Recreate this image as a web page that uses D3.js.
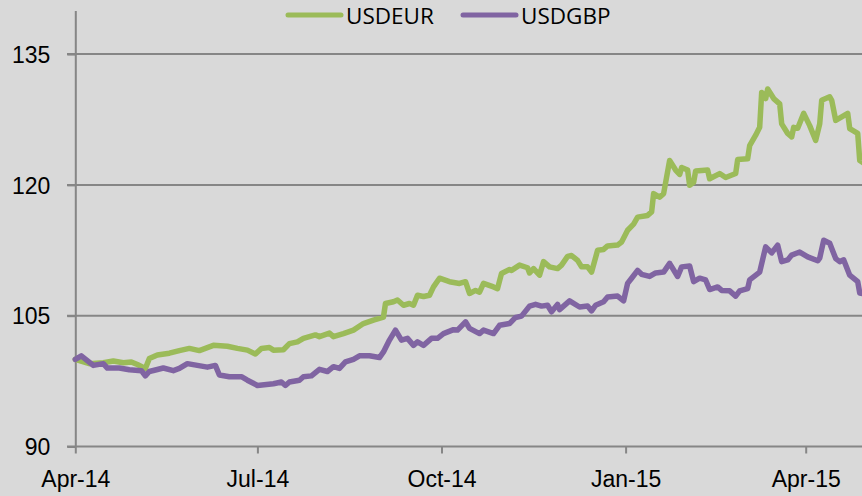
<!DOCTYPE html>
<html lang="en">
  <head>
    <meta charset="utf-8"/>
    <script src="https://cdn.jsdelivr.net/npm/d3@7"></script>
    <style>
      body { margin: 0; background: #d9d9d9; }
      svg { display: block; font-family: "Open Sans", sans-serif; }
      .axis text { fill: #000; font-size: 23px; }
      .axis path, .axis line { stroke: #868686; stroke-width: 2; }
      .grid line { stroke: #868686; stroke-width: 2; }
      .legend text { font-size: 22.5px; fill: #000; }
    </style>
  </head>
  <body>
    <svg class="chart"></svg>
  </body>
  <script>
    const seriesNames = ["USDEUR", "USDGBP"];
    const seriesColors = ["#9bbb59", "#8064a2"];
    const yTicks = [90, 105, 120, 135];
    const xTicks = ["2014-04-01", "2014-07-01", "2014-10-01", "2015-01-01", "2015-04-01"];

    const eurDates = [
      "2014-04-01","2014-04-08","2014-04-15","2014-04-20","2014-04-25","2014-04-29","2014-05-02","2014-05-06",
      "2014-05-08","2014-05-12","2014-05-18","2014-05-23","2014-05-28","2014-06-02","2014-06-09","2014-06-16",
      "2014-06-21","2014-06-26","2014-06-30","2014-07-03","2014-07-07","2014-07-09","2014-07-14","2014-07-17",
      "2014-07-21","2014-07-24","2014-07-27","2014-07-30","2014-08-01","2014-08-06","2014-08-08","2014-08-13",
      "2014-08-18","2014-08-23","2014-08-28","2014-09-02","2014-09-03","2014-09-07","2014-09-09","2014-09-12",
      "2014-09-15","2014-09-17","2014-09-19","2014-09-22","2014-09-25","2014-09-27","2014-09-30","2014-10-05",
      "2014-10-10","2014-10-13","2014-10-15","2014-10-18","2014-10-20","2014-10-22","2014-10-27","2014-10-29",
      "2014-10-31","2014-11-04","2014-11-05","2014-11-09","2014-11-13","2014-11-14","2014-11-16","2014-11-19",
      "2014-11-21","2014-11-24","2014-11-28","2014-11-30","2014-12-03","2014-12-05","2014-12-08","2014-12-10",
      "2014-12-13","2014-12-15","2014-12-18","2014-12-21","2014-12-23","2014-12-28","2014-12-30","2015-01-02",
      "2015-01-05","2015-01-07","2015-01-12","2015-01-14","2015-01-15","2015-01-18","2015-01-20","2015-01-23",
      "2015-01-26","2015-01-28","2015-01-29","2015-02-01","2015-02-02","2015-02-04","2015-02-05","2015-02-11",
      "2015-02-12","2015-02-17","2015-02-20","2015-02-25","2015-02-26","2015-03-03","2015-03-04","2015-03-07",
      "2015-03-09","2015-03-10","2015-03-12","2015-03-13","2015-03-16","2015-03-19","2015-03-20","2015-03-23",
      "2015-03-25","2015-03-26","2015-03-28","2015-03-31","2015-04-03","2015-04-06","2015-04-08","2015-04-09",
      "2015-04-13","2015-04-14","2015-04-16","2015-04-22","2015-04-23","2015-04-27","2015-04-28","2015-04-30"
    ];
    const eurValues = [
      100.0, 99.5, 99.6, 99.8, 99.6, 99.7, 99.4, 98.95,
      100.1, 100.5, 100.7, 101.0, 101.25, 101.0, 101.6, 101.5,
      101.25, 101.05, 100.6, 101.25, 101.35, 101.05, 101.1, 101.8,
      102.0, 102.4, 102.6, 102.8, 102.6, 103.0, 102.6, 102.95,
      103.35, 104.1, 104.5, 104.85, 106.4, 106.6, 106.8, 106.2,
      106.4, 106.2, 107.35, 107.2, 107.35, 108.3, 109.3, 108.9,
      108.7, 108.9, 107.55, 107.9, 107.7, 108.7, 108.3, 108.1,
      109.85, 110.3, 110.2, 110.8, 110.5, 109.9, 110.4, 109.65,
      111.2, 110.6, 110.4, 110.8, 111.8, 111.9, 111.35, 110.6,
      110.6, 110.0, 112.5, 112.6, 113.0, 113.1, 113.45, 114.8,
      115.5, 116.3, 116.5, 116.9, 119.0, 118.6, 119.0, 122.8,
      121.7, 121.2, 122.0, 121.7, 119.95, 120.3, 121.6, 121.7,
      120.7, 121.3, 120.85, 121.3, 122.9, 123.0, 124.5, 125.7,
      126.6, 130.6, 129.9, 131.0, 129.9, 129.3, 127.0, 125.9,
      125.5, 126.6, 126.5, 128.2, 126.8, 125.1, 127.0, 129.7,
      130.1, 129.7, 127.4, 128.2, 126.45, 125.9, 122.8, 122.5
    ];

    const gbpDates = [
      "2014-04-01","2014-04-04","2014-04-10","2014-04-15","2014-04-17","2014-04-23","2014-04-28","2014-05-04",
      "2014-05-06","2014-05-08","2014-05-15","2014-05-20","2014-05-23","2014-05-27","2014-06-01","2014-06-06",
      "2014-06-10","2014-06-12","2014-06-17","2014-06-23","2014-06-26","2014-07-01","2014-07-09","2014-07-13",
      "2014-07-15","2014-07-17","2014-07-22","2014-07-24","2014-07-28","2014-08-01","2014-08-05","2014-08-08",
      "2014-08-11","2014-08-14","2014-08-18","2014-08-21","2014-08-26","2014-08-31","2014-09-02","2014-09-05",
      "2014-09-08","2014-09-11","2014-09-14","2014-09-17","2014-09-19","2014-09-22","2014-09-26","2014-09-29",
      "2014-10-02","2014-10-07","2014-10-09","2014-10-13","2014-10-15","2014-10-20","2014-10-22","2014-10-27",
      "2014-10-30","2014-11-04","2014-11-07","2014-11-10","2014-11-14","2014-11-17","2014-11-20","2014-11-23",
      "2014-11-25","2014-11-28","2014-11-29","2014-12-04","2014-12-09","2014-12-13","2014-12-15","2014-12-17",
      "2014-12-21","2014-12-23","2014-12-28","2014-12-31","2015-01-02","2015-01-04","2015-01-07","2015-01-09",
      "2015-01-13","2015-01-16","2015-01-20","2015-01-23","2015-01-27","2015-01-29","2015-02-02","2015-02-04",
      "2015-02-07","2015-02-10","2015-02-12","2015-02-16","2015-02-18","2015-02-22","2015-02-25","2015-02-27",
      "2015-03-03","2015-03-04","2015-03-09","2015-03-12","2015-03-15","2015-03-18","2015-03-20","2015-03-23",
      "2015-03-25","2015-03-29","2015-04-02","2015-04-07","2015-04-08","2015-04-10","2015-04-13","2015-04-16",
      "2015-04-18","2015-04-20","2015-04-23","2015-04-27","2015-04-28","2015-04-30"
    ];
    const gbpValues = [
      100.0, 100.4, 99.3, 99.5, 99.0, 99.0, 98.8, 98.7,
      98.1, 98.6, 99.0, 98.7, 98.95, 99.5, 99.3, 99.1,
      99.3, 98.2, 98.0, 98.0, 97.6, 97.0, 97.2, 97.4,
      97.0, 97.4, 97.6, 98.0, 98.1, 98.85, 98.6, 99.15,
      98.95, 99.7, 100.0, 100.4, 100.4, 100.2, 100.85, 102.2,
      103.35, 102.2, 102.4, 101.6, 102.0, 101.6, 102.4, 102.4,
      102.95, 103.4, 103.35, 104.3, 103.55, 102.95, 103.35, 102.95,
      103.9, 104.1, 104.8, 104.95, 106.1, 106.3, 106.1, 106.2,
      105.45, 106.3, 105.7, 106.7, 106.0, 106.1, 105.55, 106.2,
      106.6, 107.15, 107.25, 106.7, 108.7, 109.3, 110.2, 109.75,
      109.5, 109.9, 110.0, 111.0, 109.5, 110.6, 110.7, 108.9,
      109.3, 109.1, 108.0, 108.3, 107.9, 107.85, 107.25, 107.85,
      108.1, 109.1, 110.0, 112.9, 112.2, 113.1, 111.2, 111.4,
      111.95, 112.3, 111.75, 111.3, 111.6, 113.65, 113.3, 111.55,
      111.2, 111.4, 109.65, 108.9, 107.6, 107.5
    ];

    const width = 862;
    const height = 496;
    const parse = d3.timeParse("%Y-%m-%d");

    const x = d3.scaleTime()
      .domain([parse("2014-04-01"), parse("2015-04-01")])
      .range([75.3, 805.7]);
    const y = d3.scaleLinear()
      .domain([90, 140])
      .range([446.5, 10.5]);

    const svg = d3.select(".chart")
      .attr("width", width)
      .attr("height", height);

    svg.append("rect")
      .attr("width", width)
      .attr("height", height)
      .attr("fill", "#d9d9d9");

    // horizontal gridlines (plus the small tick left of the axis)
    svg.append("g")
      .attr("class", "grid")
      .selectAll("line")
      .data(yTicks.slice(1))
      .enter().append("line")
        .attr("x1", 67)
        .attr("x2", width)
        .attr("y1", function(d) { return y(d); })
        .attr("y2", function(d) { return y(d); });

    const yAxis = svg.append("g")
      .attr("class", "axis")
      .attr("transform", "translate(" + x.range()[0] + ",0)")
      .call(d3.axisLeft(y).tickValues(yTicks).tickSize(8).tickPadding(17).tickSizeOuter(0));
    yAxis.selectAll("text").attr("dy", "0.36em");

    const xAxis = svg.append("g")
      .attr("class", "axis")
      .attr("transform", "translate(0," + y(90) + ")")
      .call(d3.axisBottom(x)
        .tickValues(xTicks.map(parse))
        .tickFormat(d3.timeFormat("%b-%y"))
        .tickSize(7)
        .tickPadding(17)
        .tickSizeOuter(0));
    xAxis.select(".domain").remove();
    xAxis.append("line")
      .attr("x1", 67)
      .attr("x2", width)
      .attr("stroke", "#868686")
      .attr("stroke-width", 2);

    const line = d3.line()
      .x(function(d) { return x(d.date); })
      .y(function(d) { return y(d.value); });

    const series = [
      eurDates.map(function(d, i) { return { date: parse(d), value: eurValues[i] }; }),
      gbpDates.map(function(d, i) { return { date: parse(d), value: gbpValues[i] }; })
    ];

    svg.selectAll("path.series")
      .data(series)
      .enter().append("path")
        .attr("class", "series")
        .attr("fill", "none")
        .attr("stroke", function(d, i) { return seriesColors[i]; })
        .attr("stroke-width", 5.5)
        .attr("stroke-linejoin", "round")
        .attr("stroke-linecap", "round")
        .attr("d", line);

    const legend = svg.append("g")
      .attr("class", "legend")
      .selectAll("g")
      .data(seriesNames)
      .enter().append("g")
        .attr("transform", function(d, i) { return "translate(" + (288 + i * 175) + ",15)"; });
    legend.append("line")
      .attr("x1", 0)
      .attr("x2", 53)
      .attr("stroke", function(d, i) { return seriesColors[i]; })
      .attr("stroke-width", 5)
      .attr("stroke-linecap", "round");
    legend.append("text")
      .attr("x", 58)
      .attr("y", 9)
      .text(function(d) { return d; });
  </script>
</html>
